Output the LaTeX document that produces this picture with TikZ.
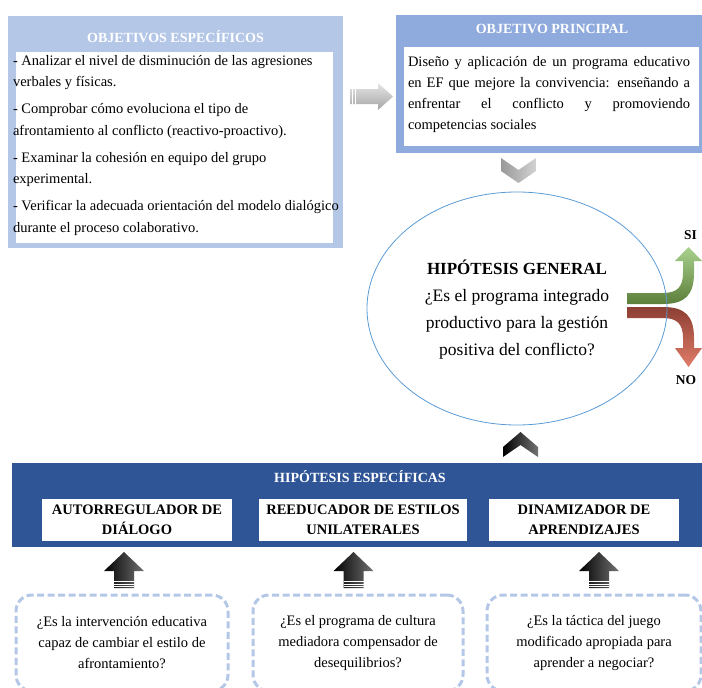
\documentclass[tikz,border=0pt]{standalone}
\usepackage{fontspec}
\setmainfont{Liberation Serif}
\usetikzlibrary{positioning, shapes.geometric}
\definecolor{celeste}{HTML}{B4C7E7}
\definecolor{azulmedio}{HTML}{8FAADC}
\definecolor{azulfuerte}{HTML}{2F5597}
\definecolor{bordeelipse}{HTML}{5B9BD5}
\tikzset{
    bloque/.style={anchor=north west, inner sep=0pt, outer sep=0pt}, % rectangulos de fondo
    titulo/.style={text=white, font=\bfseries\fontsize{14}{14}\selectfont}, % titulos en blanco
    etiqueta/.style={bloque, fill=white, minimum height=42, align=center, font=\bfseries\fontsize{14.5}{20}\selectfont},
    pregunta/.style={bloque, draw=celeste, line width=3pt, dash pattern=on 7pt off 3.5pt, rounded corners=16pt, minimum height=96, align=center, font=\fontsize{14.5}{21}\selectfont},
    flecha/.style={left color=black, right color=black!55} % flechas negras
}
\begin{document}
\begin{tikzpicture}[x=1pt, y=-1pt]
    \useasboundingbox (0,0) rectangle (702,688);
    \clip (0,0) rectangle (702,688);

    % objetivos especificos
    \node[bloque, fill=celeste, minimum width=335, minimum height=232] (objesp) at (8,16) {};
    \node[bloque, fill=white, minimum width=317, minimum height=191] (objespin) at (16,52) {};
    \node[titulo] (objesptit) at (175.5,37) {OBJETIVOS ESPECÍFICOS};
    \node[bloque, align=left, font=\fontsize{14.5}{21.5}\selectfont] (objesptxt) at (13,55) {- Analizar el nivel de disminución de las agresiones\\verbales y físicas.\\[5.5pt]- Comprobar cómo evoluciona el tipo de\\afrontamiento al conflicto (reactivo-proactivo).\\[5.5pt]- Examinar la cohesión en equipo del grupo\\experimental.\\[5.5pt]- Verificar la adecuada orientación del modelo dialógico\\durante el proceso colaborativo.};

    % objetivo principal
    \node[bloque, fill=azulmedio, minimum width=306, minimum height=138] (objpri) at (396,15) {};
    \node[bloque, fill=white, minimum width=295, minimum height=99] (objpriin) at (404,47) {};
    \node[titulo] (objpritit) at (552,29) {OBJETIVO PRINCIPAL};
    \node[bloque, text width=282, align=justify, font=\fontsize{14.5}{21.3}\selectfont] (objpritxt) at (408,56) {Diseño y aplicación de un programa educativo\linebreak en EF que mejore la convivencia: enseñando a\linebreak enfrentar el conflicto y promoviendo\linebreak competencias sociales};

    \shade[top color=gray!20, bottom color=gray!70] (350,89) -- (378,89) -- (378,83) -- (393,96.5) -- (378,110) -- (378,104) -- (350,104) -- cycle;
    \foreach \sx in {352.5,355} \draw[white, line width=0.6pt] (\sx,89) -- (\sx,104);
    \shade[left color=gray!80, right color=gray!35] (501,158) -- (518.5,170) -- (536,158) -- (536,171) -- (518.5,183) -- (501,171) -- cycle;

    % si / no
    \shade[top color={rgb,255:red,169;green,209;blue,142}, bottom color={rgb,255:red,92;green,127;blue,58}] (627,293) -- (663,293) .. controls (677,293) and (683,287) .. (683,273) -- (683,261) -- (675,261) -- (688.5,247) -- (702,261) -- (694,261) -- (694,273) .. controls (694,295) and (685,304) .. (663,304) -- (627,304) -- cycle;
    \shade[top color={rgb,255:red,140;green,63;blue,51}, bottom color={rgb,255:red,224;green,124;blue,104}] (627,307) -- (663,307) .. controls (685,307) and (694,316) .. (694,338) -- (694,348) -- (702,348) -- (688.5,367) -- (675,348) -- (683,348) -- (683,338) .. controls (683,324) and (677,318) .. (663,318) -- (627,318) -- cycle;
    \node[font=\bfseries\fontsize{13.5}{13.5}\selectfont] (si) at (690.5,235) {SI};
    \node[font=\bfseries\fontsize{13.5}{13.5}\selectfont] (no) at (686,380) {NO};

    % hipotesis general
    \node[ellipse, draw=bordeelipse, line width=0.8pt, minimum width=300, minimum height=233, inner sep=0pt] (hipgen) at (517,308.5) {};
    \node[font=\bfseries\fontsize{17}{17}\selectfont] (hipgentit) at (517,267) {HIPÓTESIS GENERAL};
    \node[align=center, font=\fontsize{17.5}{27}\selectfont] (hipgentxt) at (517,324) {¿Es el programa integrado\\productivo para la gestión\\positiva del conflicto?};

    \shade[flecha] (503,447) -- (520.5,432) -- (538,447) -- (538,457) -- (520.5,445) -- (503,457) -- cycle;

    % hipotesis especificas
    \node[bloque, fill=azulfuerte, minimum width=690, minimum height=84] (hipesp) at (12,463) {};
    \node[titulo] (hipesptit) at (360,477) {HIPÓTESIS ESPECÍFICAS};
    \node[etiqueta, minimum width=190] (auto) at (42,499) {AUTORREGULADOR DE\\DIÁLOGO};
    \node[etiqueta, minimum width=208] (reed) at (259,499) {REEDUCADOR DE ESTILOS\\UNILATERALES};
    \node[etiqueta, minimum width=190] (dina) at (489,499) {DINAMIZADOR DE\\APRENDIZAJES};

    \foreach \cx in {124,353.5,599} {
        \shade[flecha] (\cx-20,571) -- (\cx,552) -- (\cx+20,571) -- (\cx+10,571) -- (\cx+10,588) -- (\cx-10,588) -- (\cx-10,571) -- cycle;
        \foreach \sy in {581.5,584,586.5} \draw[white, line width=0.7pt] (\cx-10,\sy) -- (\cx+10,\sy);
    }

    \node[pregunta, minimum width=212] (preg1) at (16,595) {¿Es la intervención educativa\\capaz de cambiar el estilo de\\afrontamiento?};
    \node[pregunta, minimum width=210] (preg2) at (253,595) {¿Es el programa de cultura\\mediadora compensador de\\desequilibrios?};
    \node[pregunta, minimum width=214] (preg3) at (487,595) {¿Es la táctica del juego\\modificado apropiada para\\aprender a negociar?};
\end{tikzpicture}
\end{document}
